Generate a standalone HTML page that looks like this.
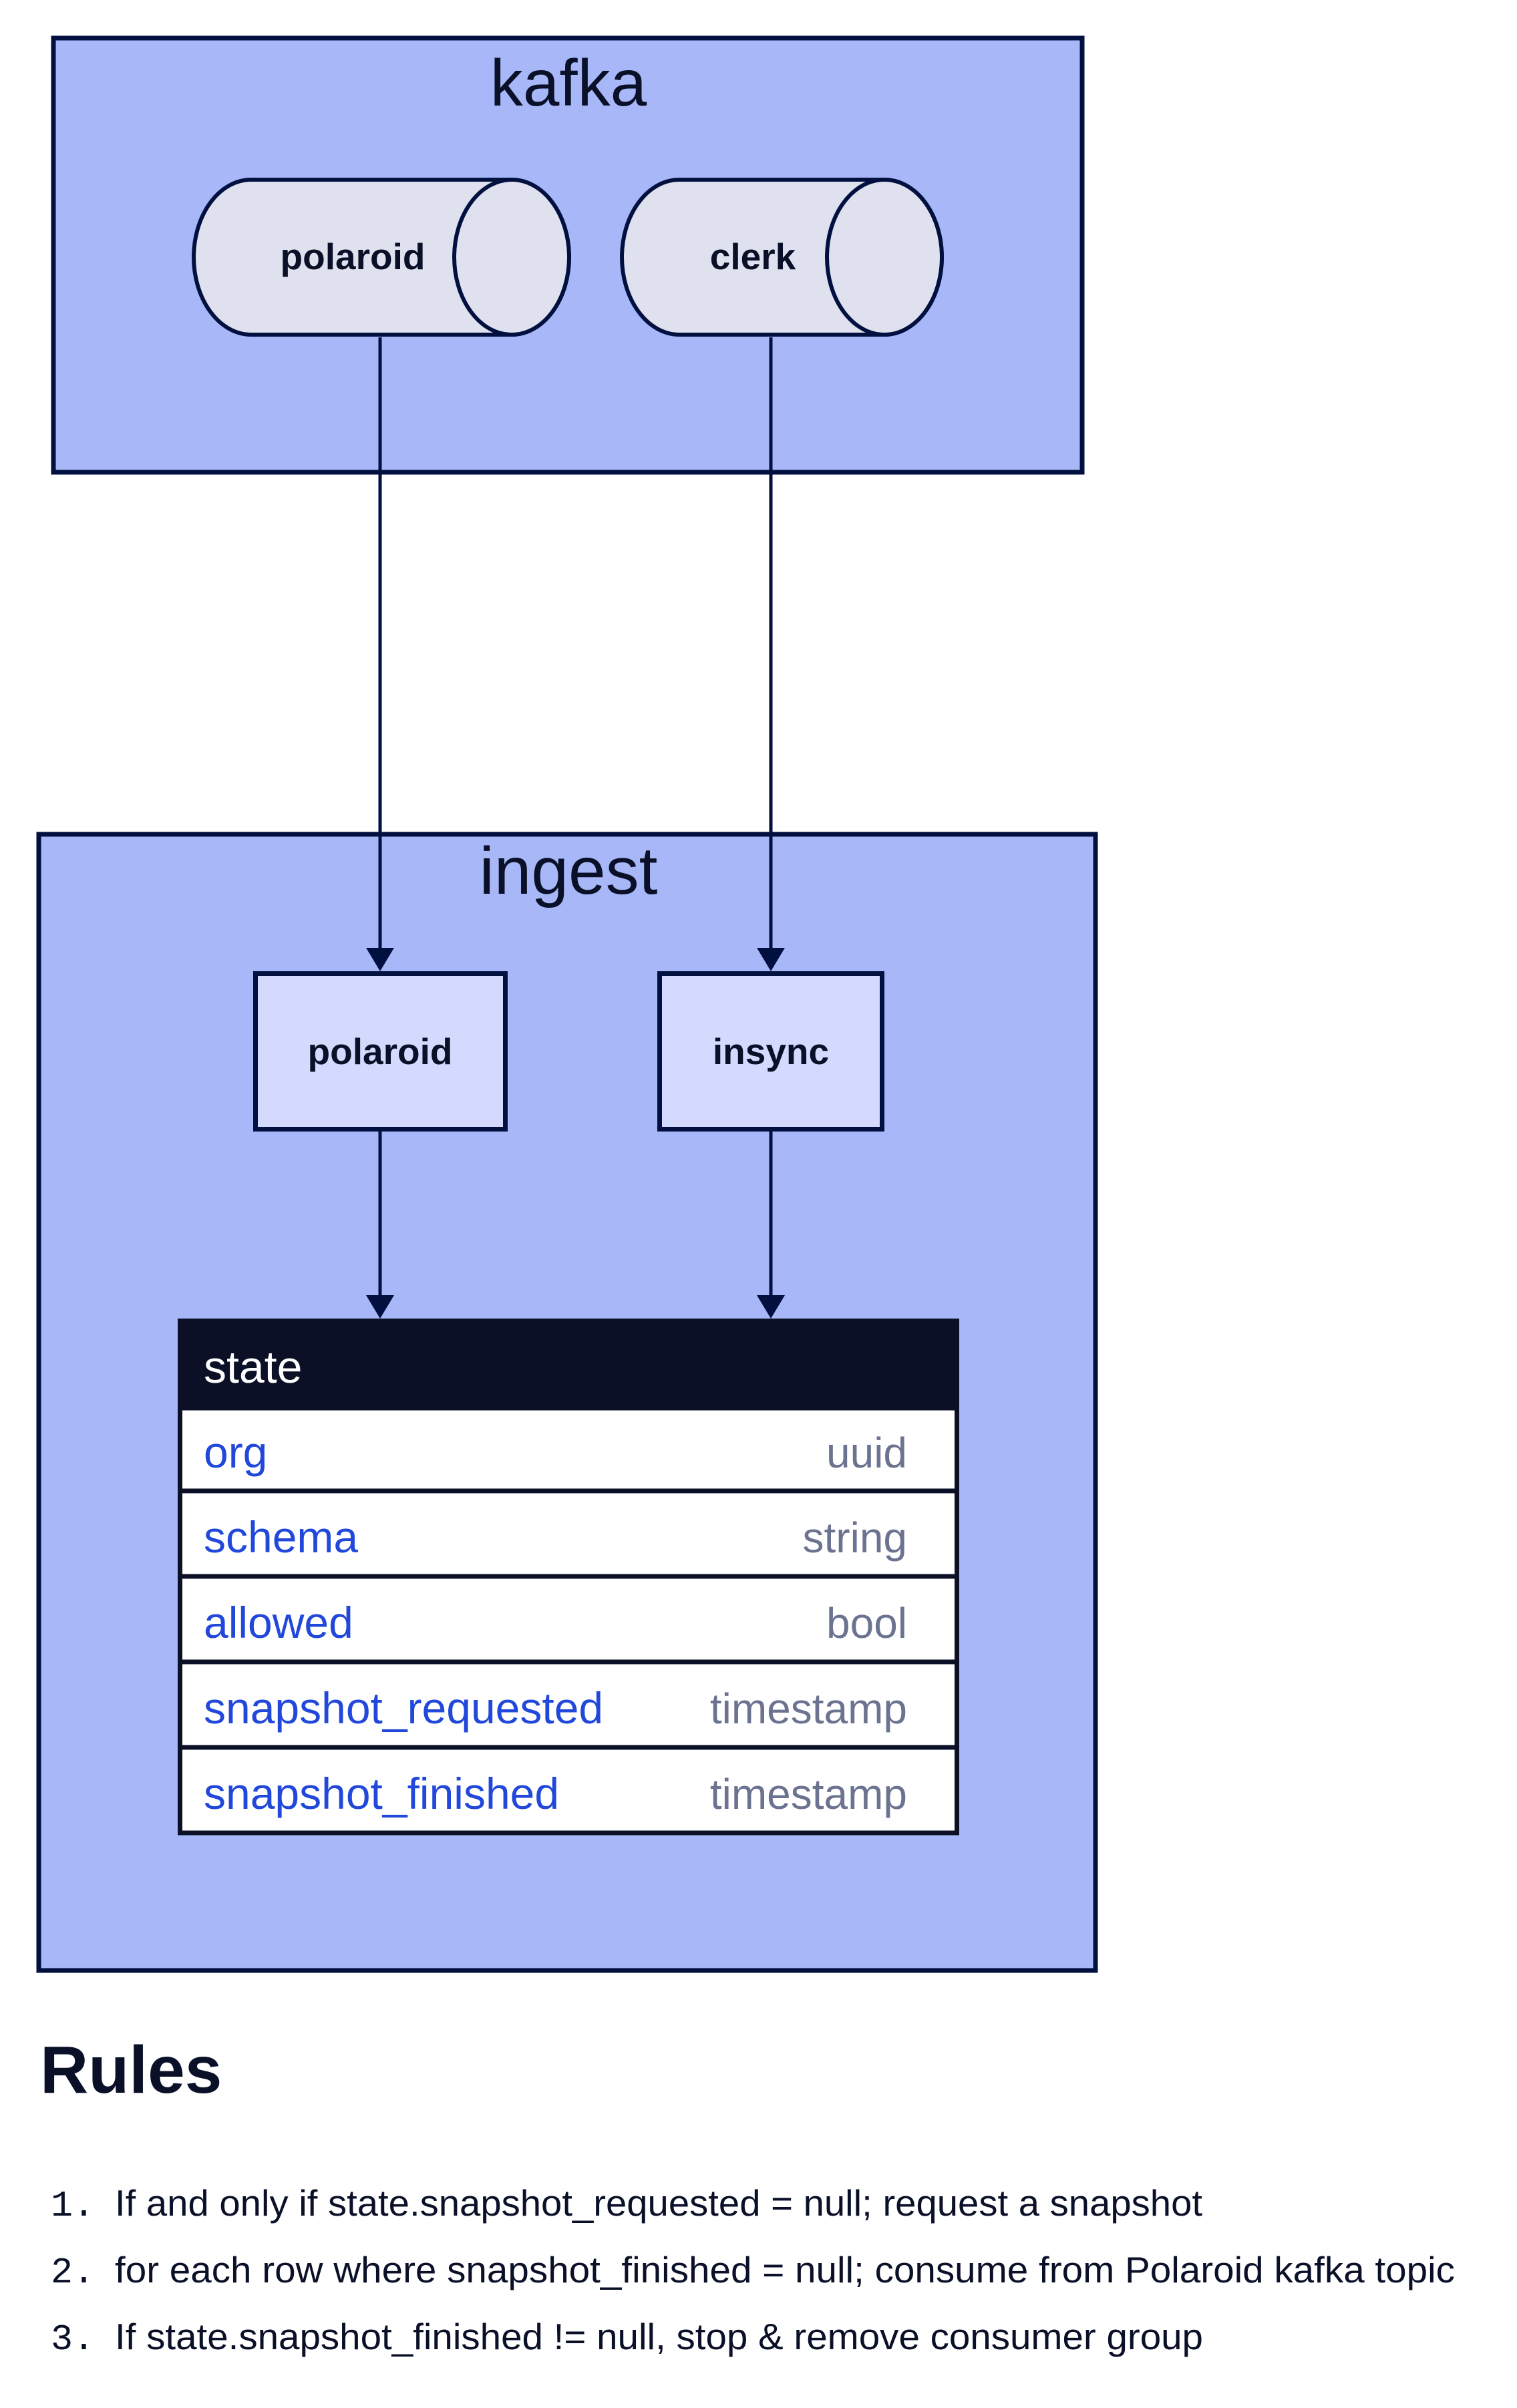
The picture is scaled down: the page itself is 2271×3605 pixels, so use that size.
<!DOCTYPE html>
<html><head><meta charset="utf-8"><style>
html,body{margin:0;padding:0;background:#fff;}
svg{display:block}
</style></head><body>
<svg width="2271" height="3605" viewBox="0 0 2271 3605" xmlns="http://www.w3.org/2000/svg" font-family="Liberation Sans, sans-serif">
<rect x="0" y="0" width="2271" height="3605" fill="#fff"/>
<!-- kafka -->
<rect x="80" y="57" width="1540" height="650" fill="#a7b7f7" stroke="#021040" stroke-width="7"/>
<text x="851" y="158" font-size="98" text-anchor="middle" fill="#0a1028">kafka</text>
<path d="M376,269 L766,269 A86,116 0 0 1 766,501 L376,501 A86,116 0 0 1 376,269 Z" fill="#dfe2ee" stroke="#021040" stroke-width="6"/>
<ellipse cx="766" cy="385" rx="86" ry="116" fill="#dfe2ee" stroke="#021040" stroke-width="6"/>
<text x="528" y="403" font-size="55" font-weight="bold" text-anchor="middle" fill="#0a1028">polaroid</text>
<path d="M1017,269 L1324,269 A86,116 0 0 1 1324,501 L1017,501 A86,116 0 0 1 1017,269 Z" fill="#dfe2ee" stroke="#021040" stroke-width="6"/>
<ellipse cx="1324" cy="385" rx="86" ry="116" fill="#dfe2ee" stroke="#021040" stroke-width="6"/>
<text x="1127" y="403" font-size="55" font-weight="bold" text-anchor="middle" fill="#0a1028">clerk</text>
<!-- ingest -->
<rect x="58" y="1249" width="1582" height="1701" fill="#a7b7f7" stroke="#021040" stroke-width="7"/>
<text x="851" y="1338" font-size="100" text-anchor="middle" fill="#0a1028">ingest</text>
<!-- connectors -->
<line x1="569" y1="505" x2="569" y2="1425" stroke="#021040" stroke-width="5"/>
<polygon points="548,1419 590,1419 569,1454" fill="#021040"/>
<line x1="1154" y1="505" x2="1154" y2="1425" stroke="#021040" stroke-width="5"/>
<polygon points="1133,1419 1175,1419 1154,1454" fill="#021040"/>
<rect x="382.5" y="1457.5" width="374" height="233" fill="#d3dafd" stroke="#021040" stroke-width="7"/>
<text x="569" y="1593" font-size="55" font-weight="bold" text-anchor="middle" fill="#0a1028">polaroid</text>
<rect x="987.5" y="1457.5" width="333" height="233" fill="#d3dafd" stroke="#021040" stroke-width="7"/>
<text x="1154" y="1593" font-size="55" font-weight="bold" text-anchor="middle" fill="#0a1028">insync</text>
<line x1="569" y1="1694" x2="569" y2="1945" stroke="#021040" stroke-width="5"/>
<polygon points="548,1939 590,1939 569,1974" fill="#021040"/>
<line x1="1154" y1="1694" x2="1154" y2="1945" stroke="#021040" stroke-width="5"/>
<polygon points="1133,1939 1175,1939 1154,1974" fill="#021040"/>
<!-- table -->
<rect x="266" y="1974" width="1170" height="134" fill="#0b1026"/>
<text x="305" y="2070" font-size="68" fill="#fff">state</text>
<rect x="269.5" y="2108" width="1163" height="636" fill="#fff" stroke="#0b1026" stroke-width="7"/>
<g stroke="#0b1026" stroke-width="7">
<line x1="266" y1="2232" x2="1436" y2="2232"/>
<line x1="266" y1="2360" x2="1436" y2="2360"/>
<line x1="266" y1="2488" x2="1436" y2="2488"/>
<line x1="266" y1="2616" x2="1436" y2="2616"/>
</g>
<g font-size="66" fill="#2148da">
<text x="305" y="2197">org</text>
<text x="305" y="2324">schema</text>
<text x="305" y="2452">allowed</text>
<text x="305" y="2580">snapshot_requested</text>
<text x="305" y="2708">snapshot_finished</text>
</g>
<g font-size="64" fill="#6b7390" text-anchor="end">
<text x="1358" y="2197">uuid</text>
<text x="1358" y="2324">string</text>
<text x="1358" y="2452">bool</text>
<text x="1358" y="2580">timestamp</text>
<text x="1358" y="2708">timestamp</text>
</g>
<!-- rules -->
<text x="60" y="3133" font-size="100" font-weight="bold" fill="#0a1028">Rules</text>
<g font-size="55" fill="#0a1028">
<text x="76" y="3317" font-family="Liberation Mono, monospace">1.</text>
<text x="172" y="3317" textLength="1628" lengthAdjust="spacingAndGlyphs">If and only if state.snapshot_requested = null; request a snapshot</text>
<text x="76" y="3417" font-family="Liberation Mono, monospace">2.</text>
<text x="172" y="3417" textLength="2006" lengthAdjust="spacingAndGlyphs">for each row where snapshot_finished = null; consume from Polaroid kafka topic</text>
<text x="76" y="3517" font-family="Liberation Mono, monospace">3.</text>
<text x="172" y="3517" textLength="1629" lengthAdjust="spacingAndGlyphs">If state.snapshot_finished != null, stop &amp; remove consumer group</text>
</g>
</svg>
</body></html>
